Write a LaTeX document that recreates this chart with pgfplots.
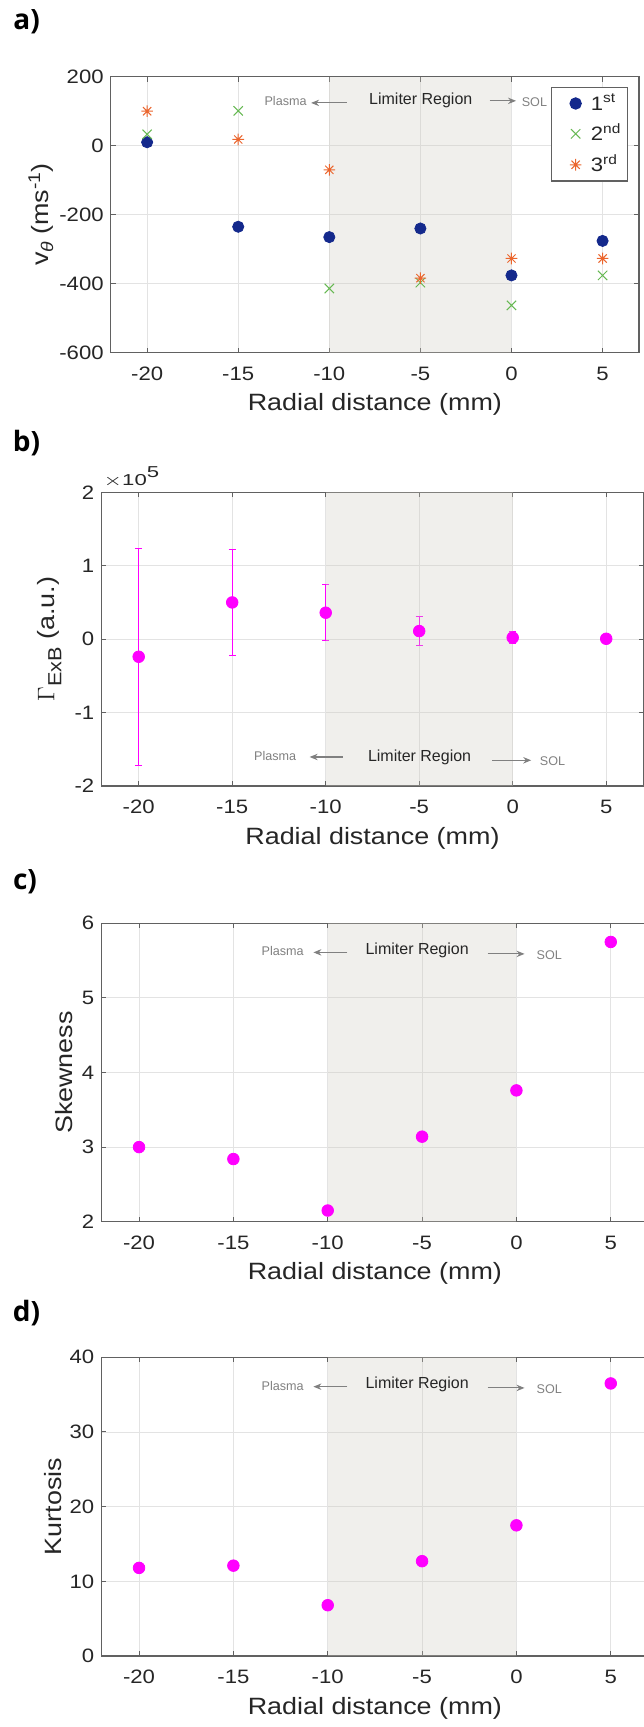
\documentclass[border=0pt]{standalone}
\usepackage{fontspec}
\usepackage{graphicx}
\setmainfont{Liberation Sans}
\newfontfamily\stf{Liberation Sans}[FakeStretch=1.14]
\newfontfamily\panelfont{Open Sans}
\usepackage{pgfplots}
\pgfplotsset{compat=1.18}
\usetikzlibrary{arrows.meta}
\definecolor{axc}{rgb}{0.38,0.38,0.38}
\definecolor{txc}{rgb}{0.15,0.15,0.15}
\definecolor{gridc}{rgb}{0.89,0.89,0.89}
\definecolor{shadec}{rgb}{0.803,0.79,0.75}
\definecolor{navy}{rgb}{0.08,0.16,0.55}
\definecolor{mgreen}{rgb}{0.40,0.72,0.32}
\definecolor{morange}{rgb}{0.92,0.40,0.18}
\definecolor{annc}{rgb}{0.5,0.5,0.5}
\definecolor{mmag}{rgb}{1,0,1}
\pgfdeclareplotmark{mstar}{%
  \pgfpathmoveto{\pgfqpoint{-\pgfplotmarksize}{0pt}}\pgfpathlineto{\pgfqpoint{\pgfplotmarksize}{0pt}}%
  \pgfpathmoveto{\pgfqpoint{0pt}{-\pgfplotmarksize}}\pgfpathlineto{\pgfqpoint{0pt}{\pgfplotmarksize}}%
  \pgfpathmoveto{\pgfqpoint{-0.707\pgfplotmarksize}{-0.707\pgfplotmarksize}}\pgfpathlineto{\pgfqpoint{0.707\pgfplotmarksize}{0.707\pgfplotmarksize}}%
  \pgfpathmoveto{\pgfqpoint{-0.707\pgfplotmarksize}{0.707\pgfplotmarksize}}\pgfpathlineto{\pgfqpoint{0.707\pgfplotmarksize}{-0.707\pgfplotmarksize}}%
  \pgfusepathqstroke}
\tikzset{
  lim/.style={font=\fontsize{8}{9}\selectfont, text=txc},
  sid/.style={font=\fontsize{6.3}{7}\selectfont, text=annc},
  arr/.style={draw=annc, line width=0.55pt, -{Stealth[length=4pt,width=3.2pt]}},
  plab/.style={font=\panelfont\bfseries\fontsize{14}{16}\selectfont},
}
\pgfplotsset{
  myax/.style={
    scale only axis, anchor=north west,
    xmin=-22, xmax=7,
    xtick={-20,-15,-10,-5,0,5},
    xticklabels={-20,-15,-10,-5,0,5},
    tick align=inside,
    major tick length=2.5pt,
    grid=major,
    major grid style={draw=gridc, line width=0.45pt},
    axis line style={draw=axc, line width=0.6pt},
    every tick/.style={draw=axc, line width=0.5pt},
    tick label style={font=\stf\fontsize{9.7}{11}\selectfont, text=txc},
    xticklabel style={yshift=-3.5pt},
    label style={font=\stf\fontsize{11.8}{13}\selectfont, text=txc},
    xlabel={Radial distance (mm)},
    xlabel style={at={([yshift=-26pt]axis description cs:0.5,0)}, anchor=center},
  },
  mdot/.style={only marks, mark=*, mark size=2.9pt, mark options={draw=mmag, fill=mmag}},
}
\begin{document}
\begin{tikzpicture}
% ---------------- a) ----------------
\node[plab] at (13.3pt,-10.9pt) {a)};
\begin{axis}[myax, at={(55.35pt,-38.35pt)}, width=264.15pt, height=138pt,
  ymin=-600, ymax=200, ytick={-600,-400,-200,0,200},
  yticklabels={-600,-400,-200,0,200},
  ylabel={v\raisebox{-2.5pt}{\fontsize{8.5}{9}\selectfont\itshape θ} (ms\raisebox{4pt}{\fontsize{8.5}{9}\selectfont -1})},
  ylabel style={at={([xshift=-34.9pt]axis description cs:0,0.5)}, anchor=center},
  legend style={at={(rel axis cs:0.9795,0.962)}, anchor=north east, draw=axc, line width=0.6pt,
    fill=white, font=\stf\fontsize{9.7}{11}\selectfont, text=txc, inner xsep=1.5pt, inner ysep=1.5pt,
    nodes={inner sep=1.6pt}, row sep=2.2pt, cells={anchor=west}},
  legend image code/.code={\path (0pt,0pt) (16pt,0pt); \draw[#1] plot coordinates {(10.3pt,0pt)};},
]
\addplot[only marks, mark=*, mark size=2.8pt, mark options={draw=navy, fill=navy}] coordinates {
 (-20,10) (-15,-235) (-10,-265) (-5,-240) (0,-376) (5,-276)};
\addlegendentry{1\textsuperscript{st}}
\addplot[only marks, mark=x, mark size=3.3pt, mark options={draw=mgreen, line width=0.5pt}] coordinates {
 (-20,33) (-15,101) (-10,-414) (-5,-397) (0,-463) (5,-376)};
\addlegendentry{2\textsuperscript{nd}}
\addplot[only marks, mark=mstar, mark size=2.9pt, mark options={draw=morange, line width=0.5pt}] coordinates {
 (-20,100) (-15,18) (-10,-70) (-5,-384) (0,-327) (5,-327)};
\addlegendentry{3\textsuperscript{rd}}
\fill[shadec, fill opacity=0.3] (axis cs:-10,-600) rectangle (axis cs:0,200);
\node[sid] at (axis cs:-12.4,129.5) {Plasma};
\draw[arr] (axis cs:-9.03,124) -- (axis cs:-11.0,124);
\node[lim] at (axis cs:-4.98,132) {Limiter Region};
\draw[arr] (axis cs:-1.2,130) -- (axis cs:0.25,130);
\node[sid] at (axis cs:1.26,127.5) {SOL};
\end{axis}
% ---------------- b) ----------------
\node[plab] at (13.3pt,-221.5pt) {b)};
\node[anchor=base west, inner sep=0pt, text=txc]
  at (51.65pt,-243pt) {\scalebox{1.4}[1]{\fontsize{7.9}{9}\selectfont $\times$10\raisebox{4.3pt}{5}}};
\begin{axis}[myax, at={(50.65pt,-246.15pt)}, width=271.15pt, height=146.85pt,
  ymin=-2, ymax=2, ytick={-2,-1,0,1,2}, yticklabels={-2,-1,0,1,2},
  ylabel={$\Gamma$\raisebox{-3.5pt}{\fontsize{9.5}{10}\selectfont ExB} (a.u.)},
  ylabel style={at={([xshift=-26pt]axis description cs:0,0.5)}, anchor=center},
]
\addplot[mdot, error bars/.cd, y dir=both, y explicit,
  error bar style={draw=mmag, line width=0.5pt},
  error mark options={rotate=90, mark size=1.75pt, draw=mmag, line width=0.5pt}] coordinates {
 (-20,-0.24) +- (0,1.48)
 (-15,0.50) +- (0,0.725)
 (-10,0.36) +- (0,0.382)
 (-5,0.11) +- (0,0.195)
 (0,0.02) +- (0,0.08)
 (5,0.005) +- (0,0.008)};
\fill[shadec, fill opacity=0.3] (axis cs:-10,-2) rectangle (axis cs:0,2);
\node[sid] at (axis cs:-12.7,-1.595) {Plasma};
\draw[arr] (axis cs:-9.1,-1.605) -- (axis cs:-10.86,-1.605);
\node[lim] at (axis cs:-4.98,-1.614) {Limiter Region};
\draw[arr] (axis cs:-1.1,-1.65) -- (axis cs:0.99,-1.65);
\node[sid] at (axis cs:2.13,-1.66) {SOL};
\end{axis}
% ---------------- c) ----------------
\node[plab] at (12.5pt,-440.9pt) {c)};
\begin{axis}[myax, at={(50.65pt,-461.65pt)}, width=273.6pt, height=149.2pt,
  ymin=2, ymax=6, ytick={2,3,4,5,6}, yticklabels={2,3,4,5,6},
  ylabel={Skewness},
  ylabel style={at={([xshift=-18.4pt]axis description cs:0,0.5)}, anchor=center},
]
\addplot[mdot] coordinates {
 (-20,3.00) (-15,2.84) (-10,2.15) (-5,3.14) (0,3.76) (5,5.75)};
\fill[shadec, fill opacity=0.3] (axis cs:-10,2) rectangle (axis cs:0,6);
\node[sid] at (axis cs:-12.39,5.634) {Plasma};
\draw[arr] (axis cs:-8.96,5.61) -- (axis cs:-10.76,5.61);
\node[lim] at (axis cs:-5.26,5.64) {Limiter Region};
\draw[arr] (axis cs:-1.52,5.59) -- (axis cs:0.43,5.59);
\node[sid] at (axis cs:1.74,5.575) {SOL};
\end{axis}
% ---------------- d) ----------------
\node[plab] at (13.3pt,-656.5pt) {d)};
\begin{axis}[myax, at={(50.65pt,-678.65pt)}, width=273.6pt, height=149.35pt,
  ymin=0, ymax=40, ytick={0,10,20,30,40}, yticklabels={0,10,20,30,40},
  ylabel={Kurtosis},
  ylabel style={at={([xshift=-24pt]axis description cs:0,0.5)}, anchor=center},
]
\addplot[mdot] coordinates {
 (-20,11.8) (-15,12.1) (-10,6.8) (-5,12.7) (0,17.5) (5,36.5)};
\fill[shadec, fill opacity=0.3] (axis cs:-10,0) rectangle (axis cs:0,40);
\node[sid] at (axis cs:-12.39,36.2) {Plasma};
\draw[arr] (axis cs:-8.96,36.07) -- (axis cs:-10.76,36.07);
\node[lim] at (axis cs:-5.26,36.4) {Limiter Region};
\draw[arr] (axis cs:-1.52,35.9) -- (axis cs:0.43,35.9);
\node[sid] at (axis cs:1.74,35.76) {SOL};
\end{axis}
\pgfresetboundingbox
\path[use as bounding box] (0pt,0pt) rectangle (321.5pt,-863.5pt);
\end{tikzpicture}
\end{document}
